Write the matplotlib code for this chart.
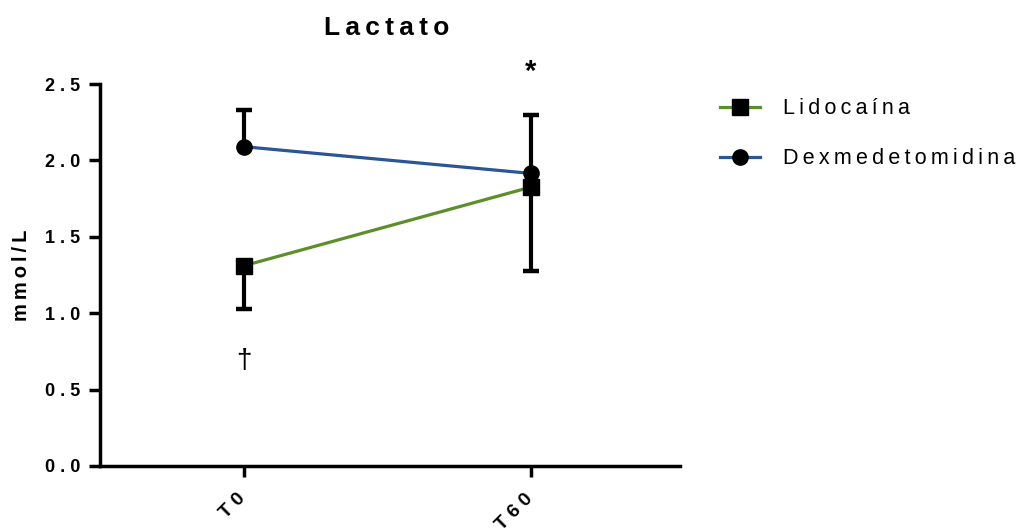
import matplotlib
matplotlib.use("Agg")
import matplotlib.pyplot as plt
import matplotlib.transforms as mtransforms

categories = ["T0", "T60"]
lido_mean = [1.31, 1.825]
lido_err_low = [0.28, 0.55]
dex_mean = [2.09, 1.915]
dex_err_high = [0.24, 0.385]
yticks = [0.0, 0.5, 1.0, 1.5, 2.0, 2.5]

THIN = "\u2009"

def spaced(s, sep=" "):
    return sep.join(s)

plt.rcParams['font.family'] = ['Liberation Sans', 'DejaVu Sans']

fig = plt.figure(figsize=(10.23, 5.30), dpi=100)
ax = fig.add_axes([100/1023, 1-466/530, 580/1023, (466-84)/530])

x = list(range(len(categories)))
green = "#5a8f29"
blue = "#2a5597"

# error bars (one-sided: Lidocaína down, Dexmedetomidina up)
lido_low_end = [m - e for m, e in zip(lido_mean, lido_err_low)]
dex_high_end = [m + e for m, e in zip(dex_mean, dex_err_high)]
ax.vlines(x, lido_low_end, lido_mean, color='black', lw=3, zorder=2)
ax.vlines(x, dex_mean, dex_high_end, color='black', lw=3, zorder=2)
ax.plot(x, lido_low_end, ls='none', marker='_', ms=12, mew=3.2, color='black', zorder=2)
ax.plot(x, dex_high_end, ls='none', marker='_', ms=12, mew=3.2, color='black', zorder=2)

ax.plot(x, lido_mean, color=green, lw=2.3, marker='s', ms=11, mfc='black', mec='black',
        label=spaced("Lidocaína", THIN), zorder=3)
ax.plot(x, dex_mean, color=blue, lw=2.3, marker='o', ms=11, mfc='black', mec='black',
        label=spaced("Dexmedetomidina", THIN), zorder=3)

ax.set_xlim(-0.5, 1.52)
ax.set_ylim(0, 2.5)
ax.set_xticks(x)
ax.set_xticklabels([])
base = mtransforms.blended_transform_factory(ax.transData, ax.transAxes)
off = mtransforms.ScaledTranslation(-7/100, -24/100, fig.dpi_scale_trans)
for xi, c in zip(x, categories):
    ax.text(xi, 0, spaced(c), transform=base + off, rotation=45, ha='right', va='top',
            rotation_mode='anchor', fontsize=14, fontweight='bold')
ax.set_yticks(yticks)
ax.set_yticklabels([spaced(f"{v:.1f}") for v in yticks], fontsize=13, fontweight='bold')
for s in ['top', 'right']:
    ax.spines[s].set_visible(False)
for s in ['left', 'bottom']:
    ax.spines[s].set_linewidth(2.5)
ax.tick_params(axis='both', length=8, width=2.5, direction='out', pad=6)

ax.set_ylabel(spaced("mmol/L", THIN), fontsize=14.5, fontweight='bold', labelpad=10)
fig.text(387/1023, 1-28/530, spaced("Lactato", THIN), ha='center', va='center',
         fontsize=19, fontweight='bold')

ax.text(1, 2.58, "*", ha='center', va='center', fontsize=21, fontweight='bold')
ax.text(0, 0.69, "†", ha='center', va='center', fontsize=20)

leg = fig.legend(loc='upper left', bbox_to_anchor=(701/1023, 1-79/530), frameon=False,
                 fontsize=15.5, handlelength=1.85, handletextpad=1.05, labelspacing=1.35)

fig.savefig("out.png", dpi=100)
